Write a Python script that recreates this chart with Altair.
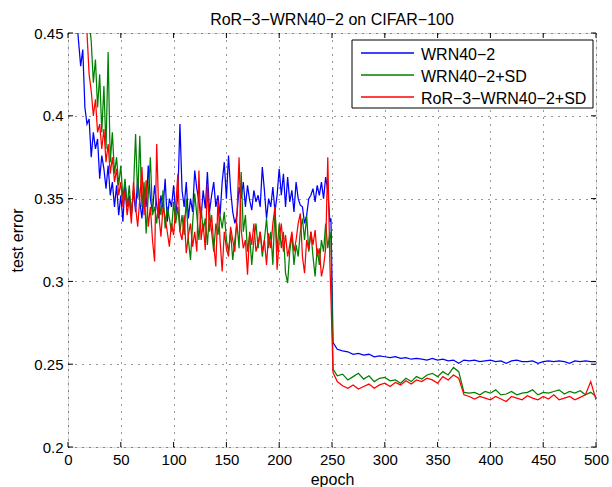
import altair as alt
import pandas as pd

title_text = "RoR−3−WRN40−2 on CIFAR−100"
series_names = ["WRN40−2", "WRN40−2+SD", "RoR−3−WRN40−2+SD"]
series_colors = ["#0000ff", "#008000", "#ff0000"]
x_ticks = [0, 50, 100, 150, 200, 250, 300, 350, 400, 450, 500]
y_ticks = [0.2, 0.25, 0.3, 0.35, 0.4, 0.45]

# epochs sampled: every 2 epochs before the LR drop, every 5 after
epochs_1 = list(range(2, 250, 2)) + [249]
epochs_2 = [251] + list(range(255, 501, 5))

wrn_1 = [
    0.62, 0.55, 0.50, 0.46, 0.445, 0.43, 0.44, 0.405, 0.395, 0.398,
    0.375, 0.39, 0.38, 0.386, 0.362, 0.376, 0.368, 0.356, 0.37, 0.352,
    0.36, 0.345, 0.358, 0.34, 0.352, 0.336, 0.36, 0.345, 0.352, 0.34,
    0.355, 0.342, 0.362, 0.348, 0.338, 0.356, 0.345, 0.37, 0.35, 0.342,
    0.358, 0.346, 0.338, 0.352, 0.344, 0.362, 0.336, 0.35, 0.345, 0.358,
    0.34, 0.352, 0.395, 0.355, 0.345, 0.36, 0.338, 0.35, 0.342, 0.367,
    0.356, 0.348, 0.338, 0.355, 0.344, 0.366, 0.342, 0.352, 0.36, 0.345,
    0.352, 0.34, 0.36, 0.372, 0.35, 0.376, 0.355, 0.342, 0.335, 0.34,
    0.357, 0.35, 0.36, 0.345, 0.358, 0.349, 0.343, 0.355, 0.348, 0.352,
    0.345, 0.369, 0.355, 0.338, 0.35, 0.345, 0.357, 0.342, 0.352, 0.368,
    0.352, 0.365, 0.345, 0.363, 0.348, 0.355, 0.342, 0.36, 0.35, 0.346,
    0.345, 0.335, 0.34, 0.35, 0.352, 0.356, 0.348, 0.358, 0.352, 0.36,
    0.35, 0.363, 0.355, 0.336,
    0.338,
]
wrn_2 = [
    0.263,
    0.259, 0.258, 0.2575, 0.256, 0.2565, 0.2555, 0.256, 0.2545, 0.255, 0.2545,
    0.254, 0.2545, 0.2535, 0.254, 0.253, 0.2535, 0.253, 0.2525, 0.2535, 0.2525,
    0.253, 0.252, 0.2525, 0.2505, 0.2525, 0.252, 0.2525, 0.2515, 0.252, 0.2525,
    0.2515, 0.252, 0.2505, 0.252, 0.2525, 0.2515, 0.2515, 0.252, 0.2505, 0.2515,
    0.252, 0.2515, 0.252, 0.2515, 0.2505, 0.252, 0.2515, 0.252, 0.2515, 0.2515,
]

sd_1 = [
    0.70, 0.63, 0.58, 0.55, 0.52, 0.50, 0.485, 0.47, 0.46, 0.458,
    0.445, 0.42, 0.434, 0.405, 0.425, 0.39, 0.418, 0.38, 0.4385, 0.372,
    0.39, 0.365, 0.375, 0.358, 0.37, 0.35, 0.362, 0.345, 0.358, 0.34,
    0.355, 0.389, 0.35, 0.388, 0.345, 0.36, 0.329, 0.352, 0.375, 0.34,
    0.345, 0.335, 0.35, 0.34, 0.355, 0.332, 0.345, 0.338, 0.33, 0.348,
    0.335, 0.345, 0.33, 0.34, 0.328, 0.35, 0.325, 0.313, 0.335, 0.353,
    0.34, 0.325, 0.345, 0.33, 0.338, 0.322, 0.342, 0.33, 0.318, 0.335,
    0.328, 0.34, 0.332, 0.342, 0.325, 0.318, 0.33, 0.313, 0.325, 0.335,
    0.32, 0.366, 0.33, 0.34, 0.318, 0.328, 0.31, 0.325, 0.335, 0.32,
    0.33, 0.315, 0.325, 0.338, 0.32, 0.33, 0.31, 0.345, 0.318, 0.335,
    0.32, 0.33, 0.305, 0.299, 0.318, 0.328, 0.31, 0.322, 0.315, 0.33,
    0.338, 0.325, 0.34, 0.318, 0.33, 0.315, 0.303, 0.32, 0.31, 0.325,
    0.318, 0.335, 0.32, 0.33,
    0.325,
]
sd_2 = [
    0.247,
    0.243, 0.244, 0.2405, 0.2425, 0.2445, 0.241, 0.243, 0.2395, 0.2415, 0.242,
    0.24, 0.2405, 0.2385, 0.2415, 0.2395, 0.2425, 0.241, 0.2435, 0.2445, 0.2425,
    0.2455, 0.2435, 0.248, 0.2455, 0.233, 0.2325, 0.233, 0.2315, 0.2335, 0.2325,
    0.2345, 0.2315, 0.232, 0.2335, 0.2315, 0.2325, 0.233, 0.2345, 0.2315, 0.233,
    0.2325, 0.2335, 0.2345, 0.232, 0.2335, 0.2325, 0.234, 0.2315, 0.233, 0.2305,
]

ror_1 = [
    0.68, 0.60, 0.56, 0.52, 0.50, 0.48, 0.465, 0.465, 0.45, 0.425,
    0.415, 0.40, 0.41, 0.39, 0.395, 0.38, 0.392, 0.372, 0.383, 0.365,
    0.375, 0.36, 0.368, 0.352, 0.36, 0.345, 0.355, 0.34, 0.35, 0.335,
    0.36, 0.345, 0.333, 0.35, 0.369, 0.34, 0.361, 0.333, 0.345, 0.325,
    0.312, 0.383, 0.34, 0.327, 0.345, 0.339, 0.33, 0.321, 0.335, 0.328,
    0.345, 0.365, 0.33, 0.325, 0.34, 0.317, 0.328, 0.335, 0.321, 0.33,
    0.318, 0.367, 0.325, 0.335, 0.319, 0.359, 0.33, 0.34, 0.322, 0.309,
    0.349, 0.325, 0.306, 0.33, 0.32, 0.315, 0.333, 0.325, 0.318, 0.34,
    0.375, 0.331, 0.32, 0.325, 0.304, 0.33, 0.322, 0.335, 0.318, 0.323,
    0.33, 0.318, 0.325, 0.31, 0.329, 0.32, 0.335, 0.345, 0.307, 0.325,
    0.335, 0.318, 0.328, 0.315, 0.322, 0.33, 0.318, 0.325, 0.335, 0.341,
    0.315, 0.305, 0.325, 0.319, 0.33, 0.322, 0.331, 0.315, 0.32, 0.303,
    0.309, 0.32, 0.375, 0.311,
    0.29,
]
ror_2 = [
    0.245,
    0.2395, 0.237, 0.2355, 0.2375, 0.235, 0.2365, 0.238, 0.2355, 0.2375, 0.2385,
    0.2365, 0.239, 0.2375, 0.24, 0.238, 0.2405, 0.2395, 0.2415, 0.2405, 0.2385,
    0.2425, 0.2405, 0.2435, 0.2415, 0.2315, 0.2305, 0.229, 0.2305, 0.2295, 0.2285,
    0.2305, 0.229, 0.2275, 0.2305, 0.2295, 0.2285, 0.231, 0.2295, 0.2285, 0.2305,
    0.229, 0.2315, 0.2285, 0.2295, 0.2305, 0.2285, 0.23, 0.2315, 0.2395, 0.2285,
]

series_values = [wrn_1 + wrn_2, sd_1 + sd_2, ror_1 + ror_2]
epochs = epochs_1 + epochs_2

W, H = 528, 414
FONT = "Liberation Sans"

xscale = alt.Scale(domain=[0, 500], nice=False, zero=False)
yscale = alt.Scale(domain=[0.2, 0.45], nice=False, zero=False)

xaxis = alt.Axis(values=x_ticks, title="epoch", format="d", grid=True,
                 gridDash=[1, 6], gridColor="black", gridOpacity=0.8,
                 ticks=False, domain=False, labelPadding=5, labelFontSize=15,
                 labelFont=FONT, labelColor="black", titleFont=FONT,
                 titleFontSize=16, titleFontWeight="normal", titleColor="black",
                 titlePadding=4, labelFlush=False)
yaxis = alt.Axis(values=y_ticks, title="test error", format="~g", grid=True,
                 gridDash=[1, 6], gridColor="black", gridOpacity=0.8,
                 ticks=False, domain=False, labelPadding=5, labelFontSize=15,
                 labelFont=FONT, labelColor="black", titleFont=FONT,
                 titleFontSize=16, titleFontWeight="normal", titleColor="black",
                 titlePadding=8, labelFlush=False)

layers = []
for name, color, vals in zip(series_names, series_colors, series_values):
    df = pd.DataFrame({"epoch": epochs, "value": vals})
    layers.append(
        alt.Chart(df).mark_line(clip=True, strokeWidth=1.25, stroke=color).encode(
            x=alt.X("epoch:Q", scale=xscale, axis=xaxis),
            y=alt.Y("value:Q", scale=yscale, axis=yaxis),
        )
    )

# inward ticks on all four sides
xt = pd.DataFrame({"epoch": x_ticks})
yt = pd.DataFrame({"value": y_ticks})
TL = 5
layers.append(alt.Chart(xt).mark_rule(stroke="black", strokeWidth=1).encode(
    x=alt.X("epoch:Q", scale=xscale, axis=xaxis), y=alt.value(H), y2=alt.value(H - TL)))
layers.append(alt.Chart(xt).mark_rule(stroke="black", strokeWidth=1).encode(
    x=alt.X("epoch:Q", scale=xscale, axis=xaxis), y=alt.value(0), y2=alt.value(TL)))
layers.append(alt.Chart(yt).mark_rule(stroke="black", strokeWidth=1).encode(
    y=alt.Y("value:Q", scale=yscale, axis=yaxis), x=alt.value(0), x2=alt.value(TL)))
layers.append(alt.Chart(yt).mark_rule(stroke="black", strokeWidth=1).encode(
    y=alt.Y("value:Q", scale=yscale, axis=yaxis), x=alt.value(W), x2=alt.value(W - TL)))

# legend box
LX0, LX1, LY0, LY1 = 284, 525, 7, 75
layers.append(alt.Chart(pd.DataFrame({"a": [0]})).mark_rect(
    fill="white", stroke="black", strokeWidth=1).encode(
    x=alt.value(LX0), x2=alt.value(LX1), y=alt.value(LY0), y2=alt.value(LY1)))
for i, (name, color) in enumerate(zip(series_names, series_colors)):
    ry = 20 + 22 * i
    layers.append(alt.Chart(pd.DataFrame({"k": [i]})).mark_rule(
        stroke=color, strokeWidth=1.6).encode(
        x=alt.value(293), x2=alt.value(346), y=alt.value(ry)))
    layers.append(alt.Chart(pd.DataFrame({"k": [i]})).mark_text(
        align="left", baseline="middle", font=FONT, fontSize=16, color="black").encode(
        x=alt.value(353), y=alt.value(ry + 1.5), text=alt.value(name)))

chart = alt.layer(*layers).properties(
    width=W, height=H,
    title=alt.TitleParams(text=title_text, font=FONT, fontSize=16,
                          fontWeight="normal", color="black", anchor="middle",
                          frame="group", offset=7, dy=22, baseline="alphabetic"),
    autosize=alt.AutoSizeParams(type="none"),
    padding={"left": 68, "top": 33, "right": 16, "bottom": 40},
).configure_view(stroke="black", strokeWidth=1).configure(background="white")

chart.save("out.html", embed_options={"renderer": "svg", "actions": False})
